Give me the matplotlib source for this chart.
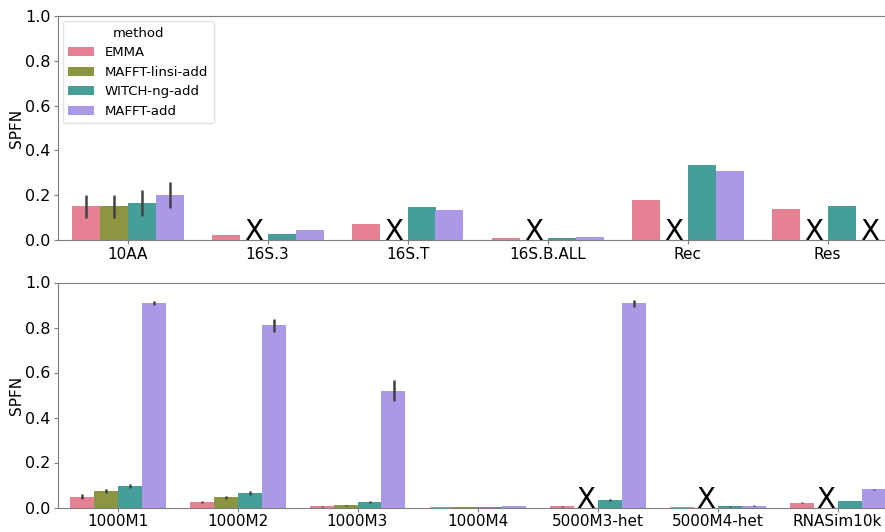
import numpy as np
import matplotlib
matplotlib.use("Agg")
import matplotlib.pyplot as plt
import seaborn as sns

nan = np.nan

methods = ["EMMA", "MAFFT-linsi-add", "WITCH-ng-add", "MAFFT-add"]

# Upper panel: datasets and mean SPFN per method (nan = method did not finish)
top_datasets = ["10AA", "16S.3", "16S.T", "16S.B.ALL", "Rec", "Res"]
top_emma = [0.150, 0.022, 0.070, 0.009, 0.180, 0.138]
top_linsi = [0.150, nan, nan, nan, nan, nan]
top_witch = [0.166, 0.029, 0.146, 0.007, 0.336, 0.152]
top_mafft = [0.202, 0.046, 0.135, 0.015, 0.308, nan]
# confidence intervals (low, high); None = no interval drawn
top_emma_ci = [(0.096, 0.202), None, None, None, None, None]
top_linsi_ci = [(0.096, 0.202), None, None, None, None, None]
top_witch_ci = [(0.108, 0.225), None, None, None, None, None]
top_mafft_ci = [(0.141, 0.259), None, None, None, None, None]

# Lower panel
bot_datasets = ["1000M1", "1000M2", "1000M3", "1000M4", "5000M3-het", "5000M4-het", "RNASim10k"]
bot_emma = [0.047, 0.024, 0.005, 0.0008, 0.006, 0.0008, 0.021]
bot_linsi = [0.072, 0.045, 0.010, 0.0008, nan, nan, nan]
bot_witch = [0.095, 0.064, 0.024, 0.003, 0.033, 0.005, 0.028]
bot_mafft = [0.907, 0.809, 0.520, 0.006, 0.907, 0.008, 0.081]
bot_emma_ci = [(0.037, 0.058), (0.018, 0.030), (0.003, 0.007), None, (0.004, 0.008), None, (0.019, 0.023)]
bot_linsi_ci = [(0.064, 0.084), (0.037, 0.053), (0.008, 0.012), None, None, None, None]
bot_witch_ci = [(0.086, 0.105), (0.055, 0.073), (0.019, 0.030), (0.002, 0.004), (0.027, 0.040), (0.004, 0.006), None]
bot_mafft_ci = [(0.898, 0.917), (0.781, 0.837), (0.474, 0.566), (0.005, 0.008), (0.889, 0.924), (0.007, 0.009), (0.079, 0.083)]

base = sns.color_palette("husl", 4)
colors = [sns.desaturate(c, 0.75) for c in base]

fig = plt.figure(figsize=(8.85, 5.32), dpi=100)
W, H = 885.0, 532.0
left_px, width_px = 57.5, 840.0
ax_top = fig.add_axes([left_px / W, 1 - 240.0 / H, width_px / W, 224.0 / H])
ax_bot = fig.add_axes([left_px / W, 1 - 507.5 / H, width_px / W, 225.0 / H])

spine_gray = "#7f7f7f"


def draw_panel(ax, datasets, series, cis, legend=False):
    n = len(datasets)
    x = np.arange(n)
    bw = 0.2
    for k, (vals, ci, name, col) in enumerate(zip(series, cis, methods, colors)):
        pos = x - 0.3 + k * bw
        vals = np.array(vals, dtype=float)
        ok = ~np.isnan(vals)
        ax.bar(pos[ok], vals[ok], width=bw, color=col, label=name, zorder=2)
        for p, v, c in zip(pos, vals, ci):
            if np.isnan(v):
                ax.text(p, 0.0, "X", ha="center", va="baseline", fontsize=20,
                        color="black", zorder=3)
            elif c is not None:
                ax.plot([p, p], [c[0], c[1]], color="#424242", lw=1.8,
                        solid_capstyle="butt", zorder=3)
    ax.set_xlim(-0.5, n - 0.5)
    ax.set_ylim(0, 1.0)
    ax.set_xticks(x)
    ax.set_xticklabels(datasets, fontsize=11)
    ax.set_yticks([0, 0.2, 0.4, 0.6, 0.8, 1.0])
    ax.set_yticklabels(["0.0", "0.2", "0.4", "0.6", "0.8", "1.0"], fontsize=11.5)
    ax.set_ylabel("SPFN", fontsize=11, labelpad=0.5)
    for s in ax.spines.values():
        s.set_color(spine_gray)
    ax.tick_params(colors=spine_gray, labelcolor="black", length=3, pad=2)
    if legend:
        leg = ax.legend(title="method", loc="upper left", fontsize=9.5,
                        title_fontsize=9.5, frameon=True, borderaxespad=0.4)
        leg.get_frame().set_edgecolor("#dddddd")


draw_panel(ax_top, top_datasets, [top_emma, top_linsi, top_witch, top_mafft],
           [top_emma_ci, top_linsi_ci, top_witch_ci, top_mafft_ci], legend=True)
draw_panel(ax_bot, bot_datasets, [bot_emma, bot_linsi, bot_witch, bot_mafft],
           [bot_emma_ci, bot_linsi_ci, bot_witch_ci, bot_mafft_ci])

fig.savefig("out.png", dpi=100)
